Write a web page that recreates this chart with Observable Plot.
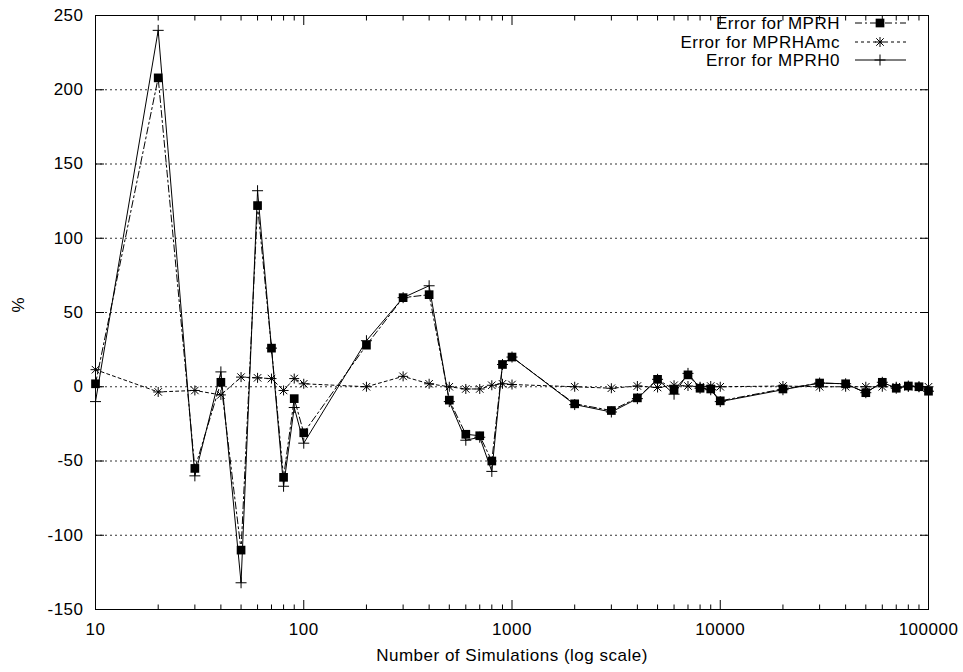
<!DOCTYPE html>
<html><head><meta charset="utf-8">
<script src="https://cdn.jsdelivr.net/npm/d3@7"></script>
<script src="https://cdn.jsdelivr.net/npm/@observablehq/plot@0.6"></script>
<style>
body{margin:0;background:#fff}
#chart{width:963px;height:672px}
</style></head><body><div id="chart"></div>
<script>
// ---- data ----
const sims = [10,20,30,40,50,60,70,80,90,
  100,200,300,400,500,600,700,800,900,
  1000,2000,3000,4000,5000,6000,7000,8000,9000,
  10000,20000,30000,40000,50000,60000,70000,80000,90000,
  100000];
const errMPRH = [2,208,-55,3,-110,122,26,-61,-8,
  -31,28,60,62,-9,-32,-33,-50,15,
  20,-11.5,-16,-7.5,5,-2,8,-1,-1.5,
  -9.5,-1.5,2.5,2,-4,3,-1,0.5,0,
  -3];
const errMPRHAmc = [11.5,-3.5,-2.5,-5.5,6.5,6,5.5,-2.5,5.5,
  2,0,7,2,0,-1.5,-1.5,1,2,
  1.5,0,-1,0.5,-0.5,1,0.5,0,0.5,
  0,0.5,0,0,0,0,0,0,0,
  0];
const errMPRH0 = [-10,240,-60,10,-132,132,26,-67,-14,
  -38,31,60,68,-10,-36,-34,-57,15,
  20,-12,-17,-8,5,-5,9,-1,-2,
  -10,-2,2.5,2,-4,3,-1,0.5,0,
  -3];
const seriesNames = ["Error for MPRH","Error for MPRHAmc","Error for MPRH0"];
const yTicks = [-150,-100,-50,0,50,100,150,200,250];
const yGrid = [-100,-50,0,50,100,150,200];
const xMajor = [10,100,1000,10000,100000];
const xMinor = [20,30,40,50,60,70,80,90,200,300,400,500,600,700,800,900,
  2000,3000,4000,5000,6000,7000,8000,9000,20000,30000,40000,50000,60000,70000,80000,90000];
const xLabel = "Number of Simulations (log scale)";
const yLabel = "%";

// ---- build ----
const rows = sims.map((x, i) => ({x, mprh: errMPRH[i], amc: errMPRHAmc[i], h0: errMPRH0[i]}));

const plusSym = {draw(ctx, size) {
  const r = Math.sqrt(size / Math.PI);
  ctx.moveTo(-r, 0); ctx.lineTo(r, 0);
  ctx.moveTo(0, -r); ctx.lineTo(0, r);
}};
const starSym = {draw(ctx, size) {
  const r = Math.sqrt(size / Math.PI), d = r * 0.75;
  ctx.moveTo(-r, 0); ctx.lineTo(r, 0);
  ctx.moveTo(0, -r); ctx.lineTo(0, r);
  ctx.moveTo(-d, -d); ctx.lineTo(d, d);
  ctx.moveTo(-d, d); ctx.lineTo(d, -d);
}};

const FONT = "'Liberation Sans', Arial, Helvetica, sans-serif";
const FS = 17;
const dashMPRH = "7,3,2,3";
const dashAmc = "3,3";

const plot = Plot.plot({
  width: 963, height: 672,
  marginLeft: 95, marginRight: 35, marginTop: 15, marginBottom: 63,
  style: {fontFamily: FONT, fontSize: FS + "px", background: "white", color: "black", letterSpacing: "0.5px"},
  x: {type: "log", domain: [10, 100000]},
  y: {domain: [-150, 250]},
  marks: [
    Plot.ruleY(yGrid, {stroke: "black", strokeWidth: 1, strokeDasharray: "2,3", strokeOpacity: 0.8}),
    // tick labels
    Plot.axisY(yTicks, {anchor: "left", tickSize: 0, tickPadding: 12, fontSize: FS, label: null, tickFormat: d => String(d)}),
    Plot.axisX(xMajor, {anchor: "bottom", tickSize: 0, tickPadding: 13, fontSize: FS, label: null, tickFormat: d => String(d)}),
    // inward ticks
    Plot.axisY(yTicks, {anchor: "left", tickSize: 9, dx: 9, tickFormat: () => "", label: null}),
    Plot.axisY(yTicks, {anchor: "right", tickSize: 9, dx: -9, tickFormat: () => "", label: null}),
    Plot.axisX(xMajor, {anchor: "bottom", tickSize: 9, dy: -9, tickFormat: () => "", label: null}),
    Plot.axisX(xMajor, {anchor: "top", tickSize: 9, dy: 9, tickFormat: () => "", label: null}),
    Plot.axisX(xMinor, {anchor: "bottom", tickSize: 4.5, dy: -4.5, tickFormat: () => "", label: null}),
    Plot.axisX(xMinor, {anchor: "top", tickSize: 4.5, dy: 4.5, tickFormat: () => "", label: null}),
    // series
    Plot.line(rows, {x: "x", y: "mprh", stroke: "black", strokeWidth: 1, strokeDasharray: dashMPRH}),
    Plot.dot(rows, {x: "x", y: "mprh", symbol: "square", r: 4.9, fill: "black", stroke: "none"}),
    Plot.line(rows, {x: "x", y: "amc", stroke: "black", strokeWidth: 1, strokeDasharray: dashAmc}),
    Plot.dot(rows, {x: "x", y: "amc", symbol: starSym, r: 5, fill: "none", stroke: "black", strokeWidth: 1}),
    Plot.line(rows, {x: "x", y: "h0", stroke: "black", strokeWidth: 1}),
    Plot.dot(rows, {x: "x", y: "h0", symbol: plusSym, r: 5.5, fill: "none", stroke: "black", strokeWidth: 1}),
    Plot.frame({stroke: "black", strokeWidth: 1}),
    // axis titles
    Plot.text([xLabel], {frameAnchor: "bottom", dy: 46, lineAnchor: "middle", fontSize: FS, fill: "black"}),
    Plot.text([yLabel], {frameAnchor: "left", dx: -77, rotate: -90, lineAnchor: "middle", fontSize: FS, fill: "black"})
  ]
});

// legend (top-right inside frame)
const svg = d3.select(plot);
const g = svg.append("g").attr("font-family", FONT).attr("font-size", FS).attr("letter-spacing", "0.5px");
const rowsY = [23, 42, 60];
const styles = [
  {dash: dashMPRH, mark: "square"},
  {dash: dashAmc, mark: "star"},
  {dash: null, mark: "plus"}
];
seriesNames.forEach((name, i) => {
  const y = rowsY[i];
  g.append("text").attr("x", 840).attr("y", y).attr("dy", "0.35em").attr("text-anchor", "end").attr("fill", "black").text(name);
  const ln = g.append("line").attr("x1", 855).attr("x2", 906).attr("y1", y).attr("y2", y).attr("stroke", "black").attr("stroke-width", 1);
  if (styles[i].dash) ln.attr("stroke-dasharray", styles[i].dash);
  const cx = 880;
  if (styles[i].mark === "square") {
    g.append("rect").attr("x", cx - 4.35).attr("y", y - 4.35).attr("width", 8.7).attr("height", 8.7).attr("fill", "black");
  } else {
    const sym = styles[i].mark === "star" ? starSym : plusSym;
    const r = styles[i].mark === "star" ? 5 : 5.5;
    g.append("path").attr("transform", `translate(${cx},${y})`)
      .attr("d", d3.symbol(sym, r * r * Math.PI)())
      .attr("fill", "none").attr("stroke", "black").attr("stroke-width", 1);
  }
});

document.getElementById("chart").appendChild(plot);
</script>
</body></html>
